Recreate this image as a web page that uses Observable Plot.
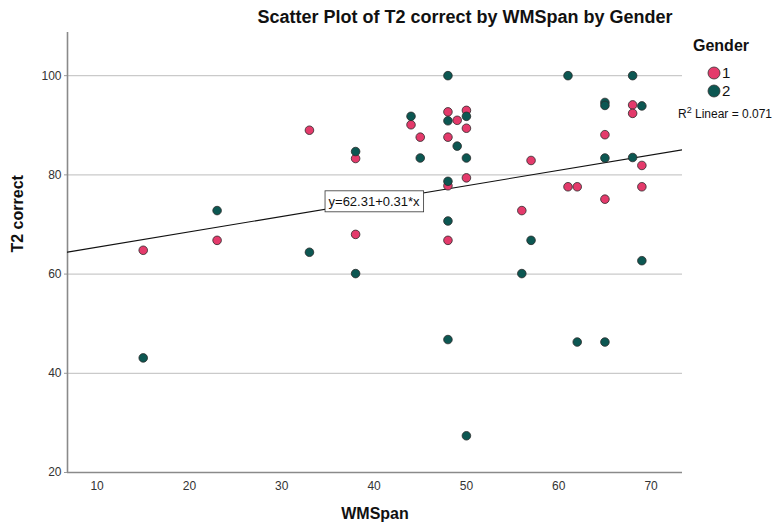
<!DOCTYPE html>
<html>
<head>
<meta charset="utf-8">
<script src="https://cdn.jsdelivr.net/npm/d3@7"></script>
<script src="https://cdn.jsdelivr.net/npm/@observablehq/plot@0.6"></script>
<style>
  html, body { margin: 0; padding: 0; background: #fff; }
  body { font-family: "Liberation Sans", Arial, sans-serif; }
  #wrap { position: relative; width: 772px; height: 530px; overflow: hidden; }
  #title { position: absolute; left: 0; top: 0; width: 772px; height: 32px; }
  #title span { position: absolute; left: 465px; top: 7px; transform: translateX(-50%); white-space: nowrap;
    font-weight: bold; font-size: 18px; color: #111; }
  #chart { position: absolute; left: 0; top: 32px; }
  .legend { position: absolute; color: #111; white-space: nowrap; }
</style>
</head>
<body>
<div id="wrap">
  <div id="title"><span>Scatter Plot of T2 correct by WMSpan by Gender</span></div>
  <div id="chart"></div>
  <div class="legend" style="left:721px;top:37px;transform:translateX(-50%);font-weight:bold;font-size:16px;">Gender</div>
  <div class="legend" id="leg1" style="left:707px;top:64px;font-size:15px;"></div>
  <div class="legend" id="leg2" style="left:707px;top:82px;font-size:15px;"></div>
  <div class="legend" style="left:725px;top:107px;transform:translateX(-50%);font-size:12px;">R<sup style="font-size:9px;vertical-align:5px;line-height:0">2</sup> Linear = 0.071</div>
</div>
<script>
// ---- data ----
const wmspan1 = [15, 23, 33, 38, 38, 44, 45, 48, 49, 48, 50, 50, 50, 48, 48, 57, 56, 61, 62, 65, 65, 68, 68, 69, 69];
const t2correct1 = [64.8, 66.8, 89.0, 83.3, 68.0, 90.1, 87.6, 92.7, 91.0, 87.6, 93.0, 89.4, 79.4, 77.8, 66.8, 82.9, 72.8, 77.6, 77.6, 88.1, 75.1, 94.1, 92.4, 81.9, 77.6];
const wmspan2 = [15, 23, 33, 38, 38, 44, 45, 48, 48, 49, 50, 50, 48, 48, 48, 50, 56, 57, 61, 62, 65, 65, 65, 65, 68, 68, 69, 69];
const t2correct2 = [43.1, 72.8, 64.4, 84.7, 60.1, 91.8, 83.4, 100, 90.9, 85.8, 91.8, 83.4, 78.7, 70.7, 46.8, 27.4, 60.1, 66.8, 100, 46.3, 94.6, 94.0, 83.4, 46.3, 100, 83.5, 93.9, 62.7];
const genders = [1, 2];
const genderColors = ["#e43a6b", "#0c5752"];
const xTicks = [10, 20, 30, 40, 50, 60, 70];
const yTicks = [20, 40, 60, 80, 100];
const fitIntercept = 62.31;
const fitSlope = 0.31;
const eqLabel = "y=62.31+0.31*x";
const eqPos = {x: 40.0, y: 74.6};
const xDomain = [6.8, 73.4];
const yDomain = [20, 108.7];

// ---- build table ----
const rows = [];
wmspan1.forEach((x, i) => rows.push({x, y: t2correct1[i], g: 1}));
wmspan2.forEach((x, i) => rows.push({x, y: t2correct2[i], g: 2}));
const fit = xDomain.map(x => ({x, y: fitIntercept + fitSlope * x}));

const font = '"Liberation Sans", Arial, sans-serif';
const plot = Plot.plot({
  width: 772,
  height: 498,
  marginTop: 0,
  marginBottom: 58,
  marginLeft: 67,
  marginRight: 90,
  style: {fontFamily: font, fontSize: "12px", color: "#222", background: "transparent"},
  x: {domain: xDomain},
  y: {domain: yDomain},
  color: {domain: genders, range: genderColors},
  marks: [
    Plot.ruleY(yTicks.filter(d => d > 20), {stroke: "#cacaca", strokeWidth: 1.2}),
    Plot.axisX(xTicks, {tickSize: 0, tickPadding: 9, label: null, fill: "#333"}),
    Plot.axisY(yTicks, {tickSize: 3, tickPadding: 3, label: null, fill: "#333", stroke: "#999"}),
    Plot.ruleX([xDomain[0]], {stroke: "#8a8a8a", strokeWidth: 1.6}),
    Plot.ruleY([yDomain[0]], {stroke: "#8a8a8a", strokeWidth: 1.6}),
    Plot.line(fit, {x: "x", y: "y", stroke: "#111", strokeWidth: 1.1, clip: true}),
    Plot.dot(rows, {x: "x", y: "y", fill: "g", r: 4.3, stroke: "#2b2b2b", strokeWidth: 0.8}),
    Plot.text([eqLabel], {x: () => eqPos.x, y: () => eqPos.y, text: d => d, fontSize: 13, fill: "#111", className: "eqlabel"}),
    Plot.text(["WMSpan"], {frameAnchor: "bottom", dy: 46, fontWeight: "bold", fontSize: 16, fill: "#111"}),
    Plot.text(["T2 correct"], {frameAnchor: "left", dx: -50, rotate: -90, fontWeight: "bold", fontSize: 16, fill: "#111"})
  ]
});
document.getElementById("chart").appendChild(plot);

// white box behind the equation label
const eqG = plot.querySelector("g.eqlabel");
if (eqG) {
  const t = eqG.querySelector("text");
  const bb = t.getBBox();
  const ns = "http://www.w3.org/2000/svg";
  const rect = document.createElementNS(ns, "rect");
  rect.setAttribute("x", bb.x - 3.5);
  rect.setAttribute("y", bb.y - 3);
  rect.setAttribute("width", bb.width + 7);
  rect.setAttribute("height", bb.height + 6);
  rect.setAttribute("fill", "#fff");
  rect.setAttribute("stroke", "#333");
  rect.setAttribute("stroke-width", "0.8");
  const tr = t.getAttribute("transform");
  if (tr) rect.setAttribute("transform", tr);
  eqG.insertBefore(rect, t);
}

// legend swatches
function swatch(id, g) {
  const el = document.getElementById(id);
  el.innerHTML = `<svg width="14" height="14" style="vertical-align:-2px;margin-right:1px"><circle cx="7" cy="7" r="6" fill="${genderColors[genders.indexOf(g)]}" stroke="#333" stroke-width="0.8"/></svg>${g}`;
}
swatch("leg1", 1);
swatch("leg2", 2);
</script>
</body>
</html>
